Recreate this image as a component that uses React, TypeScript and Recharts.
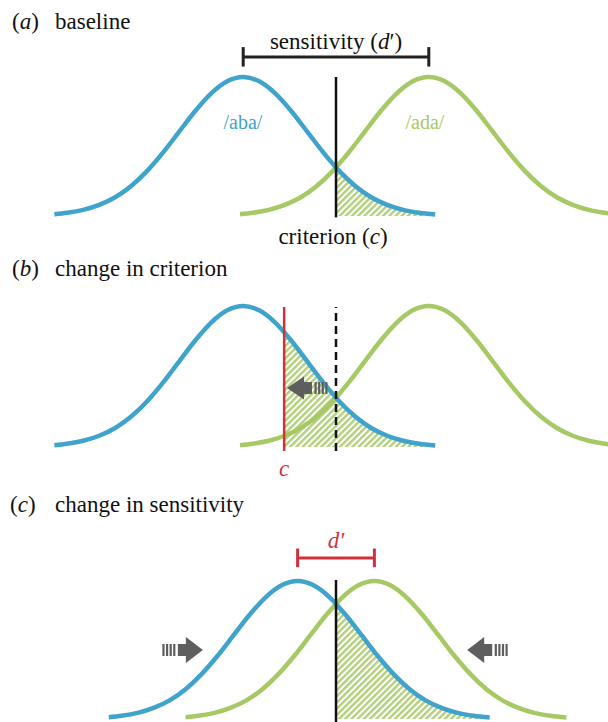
import React from "react"
import { ComposedChart, Line, Area, XAxis, YAxis, ReferenceLine, ReferenceDot } from "recharts"

// shape of one distribution (offset in sd, height relative to peak)
const bellOffsets = [-2.95, -2.75, -2.5, -2.25, -2, -1.75, -1.5, -1.25, -1, -0.75, -0.5, -0.25, 0, 0.25, 0.5, 0.75, 1, 1.25, 1.5, 1.75, 2, 2.25, 2.5, 2.75, 3]
const bellHeights = [0.013, 0.023, 0.044, 0.08, 0.135, 0.216, 0.325, 0.458, 0.607, 0.755, 0.882, 0.969, 1, 0.969, 0.882, 0.755, 0.607, 0.458, 0.325, 0.216, 0.135, 0.08, 0.044, 0.023, 0.011]

// (a) baseline
const abaMeanA = -1.45
const adaMeanA = 1.45
const criterionA = 0
const cutHeightA = 0.35

// (b) change in criterion
const abaMeanB = -1.45
const adaMeanB = 1.45
const oldCriterionB = 0
const criterionB = -0.81
const cutHeightB = 0.82

// (c) change in sensitivity
const abaMeanC = -0.6
const adaMeanC = 0.6
const criterionC = 0
const cutHeightC = 0.835

const BLUE = "#3fa3cb"
const GREEN = "#a7c965"
const HATCH = "#b3d07c"
const RED = "#d2313c"
const GREY = "#5e5e5e"

const curve = (mean: number) => bellOffsets.map((t, i) => ({ z: mean + t, h: bellHeights[i] }))

const hatchData = (mean: number, crit: number, cut: number) => [
  { z: crit, h: cut },
  ...curve(mean).filter((p) => p.z > crit + 0.02),
]

const Arrow = (dir: "left" | "right", headH: number) => (props: any) => {
  const { cx, cy } = props
  const s = dir === "left" ? 1 : -1
  const head = 17
  const shaft = 9
  const bars = [0, 1, 2, 3]
  return (
    <g fill={GREY}>
      <polygon points={`${cx},${cy} ${cx + s * head},${cy - headH / 2} ${cx + s * head},${cy + headH / 2}`} />
      <rect x={s > 0 ? cx + head - 1 : cx - head - shaft + 1} y={cy - 6} width={shaft} height={12} />
      {bars.map((b) => {
        const off = head + shaft + 1.5 + b * 3.6
        return <rect key={b} x={s > 0 ? cx + off : cx - off - 2.2} y={cy - 6} width={2.2} height={12} />
      })}
    </g>
  )
}

function Panel({
  top, height, mTop, mBottom, aba, ada, crit, cut, children,
}: {
  top: number; height: number; mTop: number; mBottom: number
  aba: number; ada: number; crit: number; cut: number; children?: React.ReactNode
}) {
  return (
    <div style={{ position: "absolute", left: 0, top, width: 608, height, overflow: "hidden" }}>
      <ComposedChart width={640} height={height} margin={{ top: mTop, right: 0, bottom: mBottom, left: 0 }}>
        <XAxis type="number" dataKey="z" domain={[-5.25, 4.75]} hide />
        <YAxis type="number" domain={[0, 1]} hide />
        <Line data={curve(ada)} dataKey="h" type="monotone" stroke={GREEN} strokeWidth={4.5} dot={false} activeDot={false} isAnimationActive={false} />
        <Area data={hatchData(aba, crit, cut)} dataKey="h" type="monotone" stroke="none" fill="url(#hatch)" fillOpacity={1} isAnimationActive={false} />
        <Line data={curve(aba)} dataKey="h" type="monotone" stroke={BLUE} strokeWidth={4.5} dot={false} activeDot={false} isAnimationActive={false} />
        {children}
      </ComposedChart>
    </div>
  )
}

// plain serif label
const T = ({ x, y, size = 23, fill = "#111", anchor = "start", italic = false, children }: any) => (
  <text
    x={x}
    y={y}
    textAnchor={anchor}
    fill={fill}
    style={{ fontFamily: "'Liberation Serif'", fontSize: size, fontStyle: italic ? "italic" : "normal" }}
  >
    {children}
  </text>
)

const I = ({ children }: any) => <tspan style={{ fontStyle: "italic" }}>{children}</tspan>

export default function App() {
  return (
    <div style={{ position: "absolute", left: 0, top: 0, width: 608, height: 722, background: "#fff", overflow: "hidden" }}>
      <svg width={0} height={0} style={{ position: "absolute" }}>
        <defs>
          <pattern id="hatch" patternUnits="userSpaceOnUse" width={4.4} height={4.4} patternTransform="rotate(45)">
            <rect width={4.4} height={4.4} fill="#fff" />
            <rect width={2.4} height={4.4} fill={HATCH} />
          </pattern>
        </defs>
      </svg>

      <Panel top={0} height={250} mTop={77} mBottom={34} aba={abaMeanA} ada={adaMeanA} crit={criterionA} cut={cutHeightA}>
        <ReferenceLine segment={[{ x: criterionA, y: -0.01 }, { x: criterionA, y: 1 }]} stroke="#111" strokeWidth={2.5} ifOverflow="visible" />
        <ReferenceLine segment={[{ x: abaMeanA, y: 1.144 }, { x: adaMeanA, y: 1.144 }]} stroke="#222" strokeWidth={3} ifOverflow="visible" />
        <ReferenceLine segment={[{ x: abaMeanA, y: 1.075 }, { x: abaMeanA, y: 1.215 }]} stroke="#222" strokeWidth={3} ifOverflow="visible" />
        <ReferenceLine segment={[{ x: adaMeanA, y: 1.075 }, { x: adaMeanA, y: 1.215 }]} stroke="#222" strokeWidth={3} ifOverflow="visible" />
      </Panel>

      <Panel top={250} height={240} mTop={56} mBottom={43} aba={abaMeanB} ada={adaMeanB} crit={criterionB} cut={cutHeightB}>
        <ReferenceLine segment={[{ x: oldCriterionB, y: -0.028 }, { x: oldCriterionB, y: 0.993 }]} stroke="#111" strokeWidth={2.5} strokeDasharray="8 5" ifOverflow="visible" />
        <ReferenceLine segment={[{ x: criterionB, y: -0.028 }, { x: criterionB, y: 0.993 }]} stroke={RED} strokeWidth={2.5} ifOverflow="visible" />
        <ReferenceDot x={-0.766} y={0.418} r={1} shape={Arrow("left", 23)} ifOverflow="visible" />
      </Panel>

      <Panel top={490} height={232} mTop={91} mBottom={3} aba={abaMeanC} ada={adaMeanC} crit={criterionC} cut={cutHeightC}>
        <ReferenceLine segment={[{ x: criterionC, y: -0.03 }, { x: criterionC, y: 1.007 }]} stroke="#111" strokeWidth={2.5} ifOverflow="visible" />
        <ReferenceLine segment={[{ x: abaMeanC, y: 1.167 }, { x: adaMeanC, y: 1.167 }]} stroke={RED} strokeWidth={3} ifOverflow="visible" />
        <ReferenceLine segment={[{ x: abaMeanC, y: 1.1 }, { x: abaMeanC, y: 1.235 }]} stroke={RED} strokeWidth={3} ifOverflow="visible" />
        <ReferenceLine segment={[{ x: adaMeanC, y: 1.1 }, { x: adaMeanC, y: 1.235 }]} stroke={RED} strokeWidth={3} ifOverflow="visible" />
        <ReferenceDot x={-2.08} y={0.5} r={1} shape={Arrow("right", 26)} ifOverflow="visible" />
        <ReferenceDot x={2.05} y={0.5} r={1} shape={Arrow("left", 26)} ifOverflow="visible" />
      </Panel>

      <svg width={608} height={722} style={{ position: "absolute", left: 0, top: 0, pointerEvents: "none" }}>
        <T x={12} y={29}>(<I>a</I>)</T>
        <T x={55} y={29}>baseline</T>
        <T x={336} y={49} anchor="middle">sensitivity (<I>d</I>′)</T>
        <T x={333} y={244} anchor="middle">criterion (<I>c</I>)</T>
        <T x={12} y={276}>(<I>b</I>)</T>
        <T x={55} y={276}>change in criterion</T>
        <T x={10} y={512}>(<I>c</I>)</T>
        <T x={55} y={512}>change in sensitivity</T>
        <T x={243} y={129} anchor="middle" size={20} fill={BLUE}>/aba/</T>
        <T x={425} y={129} anchor="middle" size={20} fill={GREEN}>/ada/</T>
        <T x={284} y={476} anchor="middle" fill={RED} italic>c</T>
        <T x={336} y={548} anchor="middle" fill={RED} italic>d′</T>
      </svg>
    </div>
  )
}
